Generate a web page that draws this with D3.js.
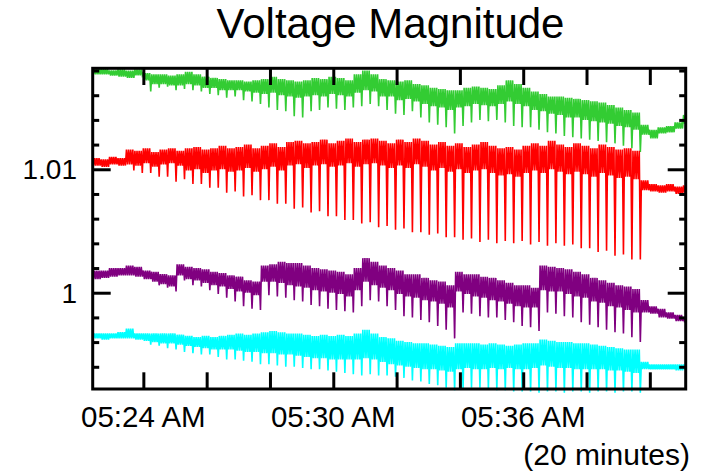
<!DOCTYPE html>
<html><head><meta charset="utf-8">
<script src="https://cdn.jsdelivr.net/npm/d3@7"></script>
<style>body{margin:0;background:#fff}svg{display:block}text{font-family:"Liberation Sans",Arial,sans-serif;fill:#000}</style>
</head><body><svg id="c" width="707" height="473"></svg>
<script>
// ---------------- data ----------------
const title = "Voltage Magnitude";
const durationNote = "(20 minutes)";
const startTime = "05:22:24";
const endTime = "05:41:08";
const cycleSeconds = 16;          // one oscillation cycle
const subSampleSeconds = 2;       // samples inside a cycle
const xLabelTimes = ["05:24:00", "05:30:00", "05:36:00"];
const xLabels = ["05:24 AM", "05:30 AM", "05:36 AM"];
const yMajorTicks = [1.00, 1.01];
const yMajorLabels = ["1", "1.01"];
const yMinorTicks = [0.994, 0.996, 0.998, 1.002, 1.004, 1.006, 1.008, 1.012, 1.014, 1.016, 1.018];
const seriesColors = ["#33cc33", "#ff0000", "#800080", "#00ffff"];

// per-cycle upper edge, lower edge of the noise band, and dip minimum (p.u.)
const greenHi = [1.0181,1.0181,1.0180,1.0181,1.0180,1.0181,1.0178,1.0177,1.0177,1.0176,1.0177,1.0179,1.0177,1.0175,1.0174,1.0173,1.0172,1.0172,1.0171,1.0172,1.0173,1.0175,1.0173,1.0172,1.0171,1.0172,1.0174,1.0173,1.0175,1.0174,1.0172,1.0177,1.0180,1.0177,1.0173,1.0172,1.0171,1.0172,1.0169,1.0168,1.0166,1.0165,1.0164,1.0164,1.0166,1.0167,1.0166,1.0165,1.0168,1.0172,1.0169,1.0166,1.0163,1.0161,1.0159,1.0159,1.0158,1.0157,1.0156,1.0155,1.0154,1.0152,1.0150,1.0148,1.0146,1.0136,1.0132,1.0134,1.0135,1.0138,1.0144];
const greenLo = [1.0177,1.0177,1.0176,1.0175,1.0174,1.0176,1.0172,1.0169,1.0169,1.0168,1.0168,1.0169,1.0168,1.0166,1.0166,1.0164,1.0164,1.0164,1.0163,1.0162,1.0161,1.0162,1.0160,1.0159,1.0158,1.0159,1.0160,1.0159,1.0161,1.0160,1.0159,1.0162,1.0164,1.0163,1.0159,1.0159,1.0156,1.0157,1.0155,1.0153,1.0151,1.0150,1.0148,1.0150,1.0151,1.0153,1.0152,1.0151,1.0153,1.0155,1.0153,1.0151,1.0148,1.0147,1.0145,1.0144,1.0142,1.0142,1.0140,1.0139,1.0138,1.0137,1.0135,1.0134,1.0132,1.0128,1.0125,1.0129,1.0130,1.0133,1.0137];
const greenDip = [1.0177,1.0177,1.0176,1.0175,1.0174,1.0176,1.0163,1.0166,1.0167,1.0164,1.0165,1.0164,1.0163,1.0161,1.0160,1.0158,1.0159,1.0156,1.0155,1.0153,1.0150,1.0148,1.0147,1.0143,1.0142,1.0147,1.0148,1.0150,1.0149,1.0148,1.0150,1.0151,1.0153,1.0151,1.0148,1.0145,1.0144,1.0147,1.0142,1.0138,1.0136,1.0134,1.0129,1.0135,1.0138,1.0140,1.0139,1.0140,1.0138,1.0135,1.0134,1.0134,1.0132,1.0130,1.0129,1.0127,1.0126,1.0125,1.0124,1.0123,1.0122,1.0121,1.0119,1.0117,1.0114,1.0128,1.0125,1.0129,1.0130,1.0133,1.0137];

const redHi = [1.0109,1.0108,1.0110,1.0109,1.0116,1.0115,1.0117,1.0114,1.0116,1.0117,1.0115,1.0117,1.0118,1.0116,1.0117,1.0119,1.0117,1.0118,1.0120,1.0117,1.0119,1.0121,1.0118,1.0122,1.0123,1.0121,1.0122,1.0124,1.0121,1.0123,1.0125,1.0122,1.0124,1.0125,1.0123,1.0121,1.0124,1.0122,1.0125,1.0123,1.0120,1.0122,1.0119,1.0121,1.0118,1.0120,1.0122,1.0119,1.0117,1.0118,1.0116,1.0119,1.0121,1.0119,1.0123,1.0120,1.0118,1.0121,1.0119,1.0117,1.0120,1.0118,1.0116,1.0117,1.0115,1.0091,1.0088,1.0087,1.0088,1.0086,1.0087];
const redLo = [1.0103,1.0102,1.0104,1.0103,1.0104,1.0103,1.0105,1.0102,1.0104,1.0105,1.0103,1.0099,1.0100,1.0097,1.0099,1.0100,1.0098,1.0099,1.0101,1.0098,1.0100,1.0102,1.0099,1.0103,1.0104,1.0101,1.0103,1.0104,1.0102,1.0103,1.0105,1.0102,1.0104,1.0105,1.0103,1.0101,1.0103,1.0101,1.0104,1.0102,1.0099,1.0101,1.0098,1.0100,1.0097,1.0099,1.0100,1.0097,1.0095,1.0096,1.0094,1.0097,1.0099,1.0097,1.0100,1.0098,1.0096,1.0098,1.0096,1.0094,1.0097,1.0095,1.0093,1.0094,1.0092,1.0083,1.0082,1.0081,1.0082,1.0080,1.0081];
const redDip = [1.0103,1.0102,1.0104,1.0103,1.0099,1.0097,1.0097,1.0094,1.0094,1.0090,1.0092,1.0088,1.0088,1.0085,1.0085,1.0081,1.0082,1.0078,1.0079,1.0075,1.0075,1.0072,1.0072,1.0068,1.0069,1.0065,1.0066,1.0062,1.0062,1.0059,1.0059,1.0056,1.0057,1.0053,1.0054,1.0051,1.0052,1.0049,1.0049,1.0047,1.0048,1.0045,1.0045,1.0043,1.0044,1.0041,1.0043,1.0040,1.0042,1.0040,1.0042,1.0039,1.0041,1.0038,1.0040,1.0038,1.0039,1.0036,1.0036,1.0033,1.0034,1.0030,1.0031,1.0027,1.0027,1.0083,1.0082,1.0081,1.0082,1.0080,1.0081];

const purpleHi = [1.0018,1.0018,1.0020,1.0020,1.0022,1.0021,1.0018,1.0017,1.0015,1.0014,1.0023,1.0021,1.0020,1.0019,1.0017,1.0016,1.0014,1.0013,1.0010,1.0009,1.0022,1.0023,1.0025,1.0024,1.0024,1.0022,1.0020,1.0019,1.0018,1.0017,1.0015,1.0020,1.0028,1.0025,1.0022,1.0020,1.0018,1.0015,1.0015,1.0012,1.0010,1.0009,1.0006,1.0017,1.0015,1.0015,1.0013,1.0012,1.0010,1.0008,1.0006,1.0006,1.0004,1.0022,1.0021,1.0020,1.0019,1.0017,1.0015,1.0012,1.0010,1.0008,1.0006,1.0005,1.0003,0.9994,0.9989,0.9987,0.9984,0.9982,0.9980];
const purpleLo = [1.0011,1.0012,1.0013,1.0014,1.0014,1.0013,1.0011,1.0009,1.0007,1.0005,1.0014,1.0011,1.0010,1.0008,1.0006,1.0005,1.0003,1.0001,1.0000,0.9998,1.0009,1.0009,1.0008,1.0006,1.0005,1.0004,1.0002,1.0001,1.0000,0.9999,0.9997,1.0002,1.0009,1.0006,1.0004,1.0002,0.9999,0.9997,0.9996,0.9994,0.9993,0.9991,0.9988,1.0001,0.9999,0.9997,0.9996,0.9994,0.9993,0.9991,0.9989,0.9988,0.9988,1.0002,1.0001,1.0001,0.9999,0.9997,0.9996,0.9993,0.9992,0.9989,0.9988,0.9986,0.9984,0.9984,0.9983,0.9980,0.9979,0.9977,0.9976];
const purpleDip = [1.0011,1.0012,1.0013,1.0014,1.0014,1.0013,1.0011,1.0006,1.0004,1.0001,1.0010,1.0006,1.0005,1.0002,0.9999,0.9996,0.9993,0.9989,0.9987,0.9986,0.9998,0.9997,0.9996,0.9994,0.9993,0.9990,0.9989,0.9987,0.9986,0.9985,0.9984,0.9989,0.9994,0.9993,0.9989,0.9986,0.9981,0.9980,0.9978,0.9976,0.9973,0.9970,0.9963,0.9984,0.9983,0.9981,0.9980,0.9980,0.9978,0.9976,0.9973,0.9972,0.9969,0.9984,0.9983,0.9981,0.9980,0.9976,0.9974,0.9972,0.9970,0.9968,0.9967,0.9964,0.9960,0.9984,0.9983,0.9980,0.9979,0.9977,0.9976];

const cyanHi = [0.9967,0.9967,0.9967,0.9968,0.9971,0.9967,0.9967,0.9967,0.9967,0.9967,0.9966,0.9965,0.9964,0.9965,0.9964,0.9965,0.9966,0.9967,0.9966,0.9967,0.9968,0.9969,0.9968,0.9967,0.9967,0.9966,0.9965,0.9966,0.9965,0.9966,0.9965,0.9967,0.9970,0.9967,0.9964,0.9963,0.9961,0.9960,0.9959,0.9959,0.9958,0.9957,0.9956,0.9959,0.9959,0.9959,0.9958,0.9959,0.9958,0.9957,0.9958,0.9959,0.9959,0.9962,0.9961,0.9960,0.9960,0.9959,0.9959,0.9958,0.9957,0.9956,0.9955,0.9954,0.9954,0.9944,0.9942,0.9942,0.9942,0.9942,0.9942];
const cyanLo = [0.9963,0.9962,0.9963,0.9963,0.9963,0.9962,0.9961,0.9960,0.9959,0.9959,0.9958,0.9957,0.9956,0.9955,0.9954,0.9954,0.9954,0.9953,0.9952,0.9952,0.9951,0.9951,0.9950,0.9950,0.9949,0.9948,0.9947,0.9947,0.9946,0.9946,0.9946,0.9946,0.9947,0.9946,0.9944,0.9942,0.9941,0.9940,0.9939,0.9938,0.9938,0.9937,0.9936,0.9938,0.9939,0.9938,0.9938,0.9939,0.9938,0.9939,0.9938,0.9938,0.9939,0.9941,0.9940,0.9939,0.9939,0.9938,0.9938,0.9938,0.9938,0.9937,0.9937,0.9936,0.9935,0.9938,0.9938,0.9938,0.9938,0.9937,0.9938];
const cyanDip = [0.9963,0.9962,0.9963,0.9963,0.9963,0.9962,0.9958,0.9957,0.9955,0.9954,0.9952,0.9951,0.9950,0.9950,0.9948,0.9946,0.9946,0.9945,0.9944,0.9942,0.9942,0.9941,0.9940,0.9940,0.9939,0.9938,0.9938,0.9937,0.9936,0.9935,0.9934,0.9933,0.9934,0.9933,0.9933,0.9932,0.9931,0.9929,0.9928,0.9926,0.9925,0.9923,0.9921,0.9922,0.9923,0.9923,0.9922,0.9921,0.9921,0.9920,0.9920,0.9920,0.9919,0.9920,0.9920,0.9919,0.9920,0.9920,0.9919,0.9920,0.9920,0.9919,0.9920,0.9920,0.9919,0.9938,0.9938,0.9938,0.9938,0.9937,0.9938];

// ---------------- chart ----------------
const svg = d3.select("#c");
const L = 92.7, R = 685.7, T = 68.3, B = 389;
const parseT = d3.timeParse("%H:%M:%S");
const t0 = parseT(startTime), t1 = parseT(endTime);
const x = d3.scaleTime().domain([t0, t1]).range([L, R]);
const y = d3.scaleLinear().domain([0.9922, 1.01818]).range([B, T]);

svg.append("defs").append("clipPath").attr("id", "plot")
  .append("rect").attr("x", L).attr("y", T).attr("width", R - L).attr("height", B - T + 4);

function buildPoints(hi, lo, dip) {
  const pts = [];
  hi.forEach((h, i) => {
    const base = +t0 + i * cycleSeconds * 1000;
    const seq = [h, lo[i], h, lo[i], h, lo[i], h, dip[i]];
    seq.forEach((v, k) => pts.push([new Date(base + k * subSampleSeconds * 1000), v]));
  });
  return pts;
}
const series = [
  [greenHi, greenLo, greenDip],
  [redHi, redLo, redDip],
  [purpleHi, purpleLo, purpleDip],
  [cyanHi, cyanLo, cyanDip]
];
const line = d3.line().x(d => x(d[0])).y(d => y(d[1]));
const gData = svg.append("g").attr("clip-path", "url(#plot)");
series.forEach((s, i) => {
  gData.append("path").attr("d", line(buildPoints(...s)))
    .attr("fill", "none").attr("stroke", seriesColors[i])
    .attr("stroke-width", 1.6).attr("stroke-linejoin", "miter");
});

// axes (inward ticks)
const xTicks = d3.timeMinute.every(2).range(t0, t1);
function styleAxis(g) {
  g.select(".domain").remove();
  g.selectAll(".tick line").attr("stroke", "#000").attr("stroke-width", 3);
  g.selectAll(".tick text").remove();
}
svg.append("g").attr("transform", `translate(0,${B})`)
  .call(d3.axisBottom(x).tickValues(xTicks).tickSizeInner(-16.7).tickSizeOuter(0)).call(styleAxis);
svg.append("g").attr("transform", `translate(0,${T})`)
  .call(d3.axisTop(x).tickValues(xTicks).tickSizeInner(-16.7).tickSizeOuter(0)).call(styleAxis);
svg.append("g").attr("transform", `translate(${L},0)`)
  .call(d3.axisLeft(y).tickValues(yMinorTicks).tickSizeInner(-6.5).tickSizeOuter(0)).call(styleAxis);
svg.append("g").attr("transform", `translate(${L},0)`)
  .call(d3.axisLeft(y).tickValues(yMajorTicks).tickSizeInner(-18).tickSizeOuter(0)).call(styleAxis);
svg.append("g").attr("transform", `translate(${R},0)`)
  .call(d3.axisRight(y).tickValues(yMinorTicks).tickSizeInner(-6.5).tickSizeOuter(0)).call(styleAxis);
svg.append("g").attr("transform", `translate(${R},0)`)
  .call(d3.axisRight(y).tickValues(yMajorTicks).tickSizeInner(-18).tickSizeOuter(0)).call(styleAxis);

svg.append("rect").attr("x", L).attr("y", T).attr("width", R - L).attr("height", B - T)
  .attr("fill", "none").attr("stroke", "#000").attr("stroke-width", 3);

// labels
xLabelTimes.forEach((t, i) => {
  svg.append("text").attr("x", x(parseT(t))).attr("y", 427)
    .attr("text-anchor", "middle").style("font-size", "29.5px").text(xLabels[i]);
});
yMajorTicks.forEach((v, i) => {
  svg.append("text").attr("x", 77).attr("y", y(v) + 10)
    .attr("text-anchor", "end").style("font-size", "28px").text(yMajorLabels[i]);
});
svg.append("text").attr("x", 390.5).attr("y", 38).attr("text-anchor", "middle")
  .style("font-size", "42px").text(title);
svg.append("text").attr("x", 690).attr("y", 465).attr("text-anchor", "end")
  .style("font-size", "30px").text(durationNote);
</script>
</body></html>
